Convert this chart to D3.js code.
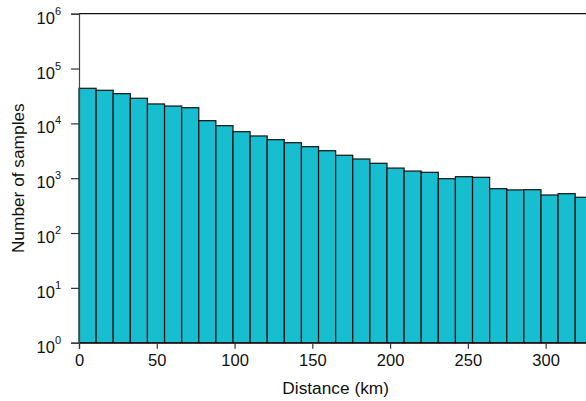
<!DOCTYPE html>
<html>
<head>
<meta charset="utf-8">
<script src="https://cdn.jsdelivr.net/npm/d3@7"></script>
<style>
  html, body { margin: 0; padding: 0; background: #fff; }
  svg { display: block; font-family: "Liberation Sans", Arial, sans-serif; }
</style>
</head>
<body>
<svg id="chart" width="586" height="401"></svg>
<script>
// Histogram bins (km): 30 bins of 11 km from 0 to 330
const binStarts = [0, 11, 22, 33, 44, 55, 66, 77, 88, 99, 110, 121, 132, 143, 154, 165, 176, 187, 198, 209, 220, 231, 242, 253, 264, 275, 286, 297, 308, 319];
const binWidth = 11;
const counts = [43600, 40100, 34800, 28700, 22600, 20700, 19300, 11200, 9080, 7050, 5890, 5040, 4440, 3760, 3170, 2620, 2240, 1870, 1530, 1350, 1280, 979, 1065, 1038, 644, 612, 617, 494, 522, 449];
const xTicks = [0, 50, 100, 150, 200, 250, 300];
const yTicks = [1, 10, 100, 1000, 10000, 100000, 1000000];
const xTitle = "Distance (km)";
const yTitle = "Number of samples";

(function () {
const svg = d3.select("#chart");
const mLeft = 79, mRight = 592.3, mTop = 13.7, mBottom = 342.7;

const x = d3.scaleLinear().domain([0, 330]).range([mLeft, mRight]);
const y = d3.scaleLog().domain([1, 1e6]).range([mBottom, mTop]);

// bars
svg.append("g").selectAll("rect")
  .data(binStarts.map((s, i) => ({ s, v: counts[i] })))
  .join("rect")
  .attr("x", d => x(d.s))
  .attr("y", d => y(d.v))
  .attr("width", d => x(d.s + binWidth) - x(d.s))
  .attr("height", d => y(1) - y(d.v))
  .attr("fill", "#17BECF")
  .attr("stroke", "#111")
  .attr("stroke-width", 1.2);

// top frame line
svg.append("line")
  .attr("x1", x(0)).attr("x2", x(330))
  .attr("y1", y(1e6)).attr("y2", y(1e6))
  .attr("stroke", "#111").attr("stroke-width", 1.2);

// x axis
const xAxis = svg.append("g")
  .attr("transform", `translate(0,${mBottom})`)
  .call(d3.axisBottom(x).tickValues(xTicks).tickSize(6).tickPadding(6).tickFormat(d3.format("d")));
xAxis.select(".domain").attr("stroke", "#111").attr("stroke-width", 1.2);
xAxis.selectAll(".tick line").attr("stroke", "#333").attr("stroke-width", 1.2);
xAxis.selectAll(".tick text")
  .attr("font-size", "16.5px").attr("fill", "#111")
  .attr("font-family", "Liberation Sans, Arial, sans-serif");

// y axis
const yAxis = svg.append("g")
  .attr("transform", `translate(${mLeft},0)`)
  .call(d3.axisLeft(y).tickValues(yTicks).tickSize(8).tickFormat(""));
yAxis.select(".domain").attr("stroke", "#444").attr("stroke-width", 1.2);
yAxis.selectAll(".tick line").attr("stroke", "#333").attr("stroke-width", 1.2);

// y tick labels with superscript exponents
const ylab = svg.append("g");
yTicks.forEach(t => {
  const e = Math.round(Math.log10(t));
  const txt = ylab.append("text")
    .attr("x", 61)
    .attr("y", y(t) + 10)
    .attr("text-anchor", "end")
    .attr("font-size", "16.5px")
    .attr("fill", "#111");
  txt.append("tspan").text("10");
  txt.append("tspan").attr("dy", -9).attr("font-size", "11px").text(e);
});

// axis titles
svg.append("text")
  .attr("x", (mLeft + mRight) / 2)
  .attr("y", 394)
  .attr("text-anchor", "middle")
  .attr("font-size", "17.3px")
  .attr("fill", "#111")
  .text(xTitle);

svg.append("text")
  .attr("transform", `translate(24,${(mTop + mBottom) / 2}) rotate(-90)`)
  .attr("text-anchor", "middle")
  .attr("font-size", "17.3px")
  .attr("fill", "#111")
  .text(yTitle);
})();
</script>
</body>
</html>
